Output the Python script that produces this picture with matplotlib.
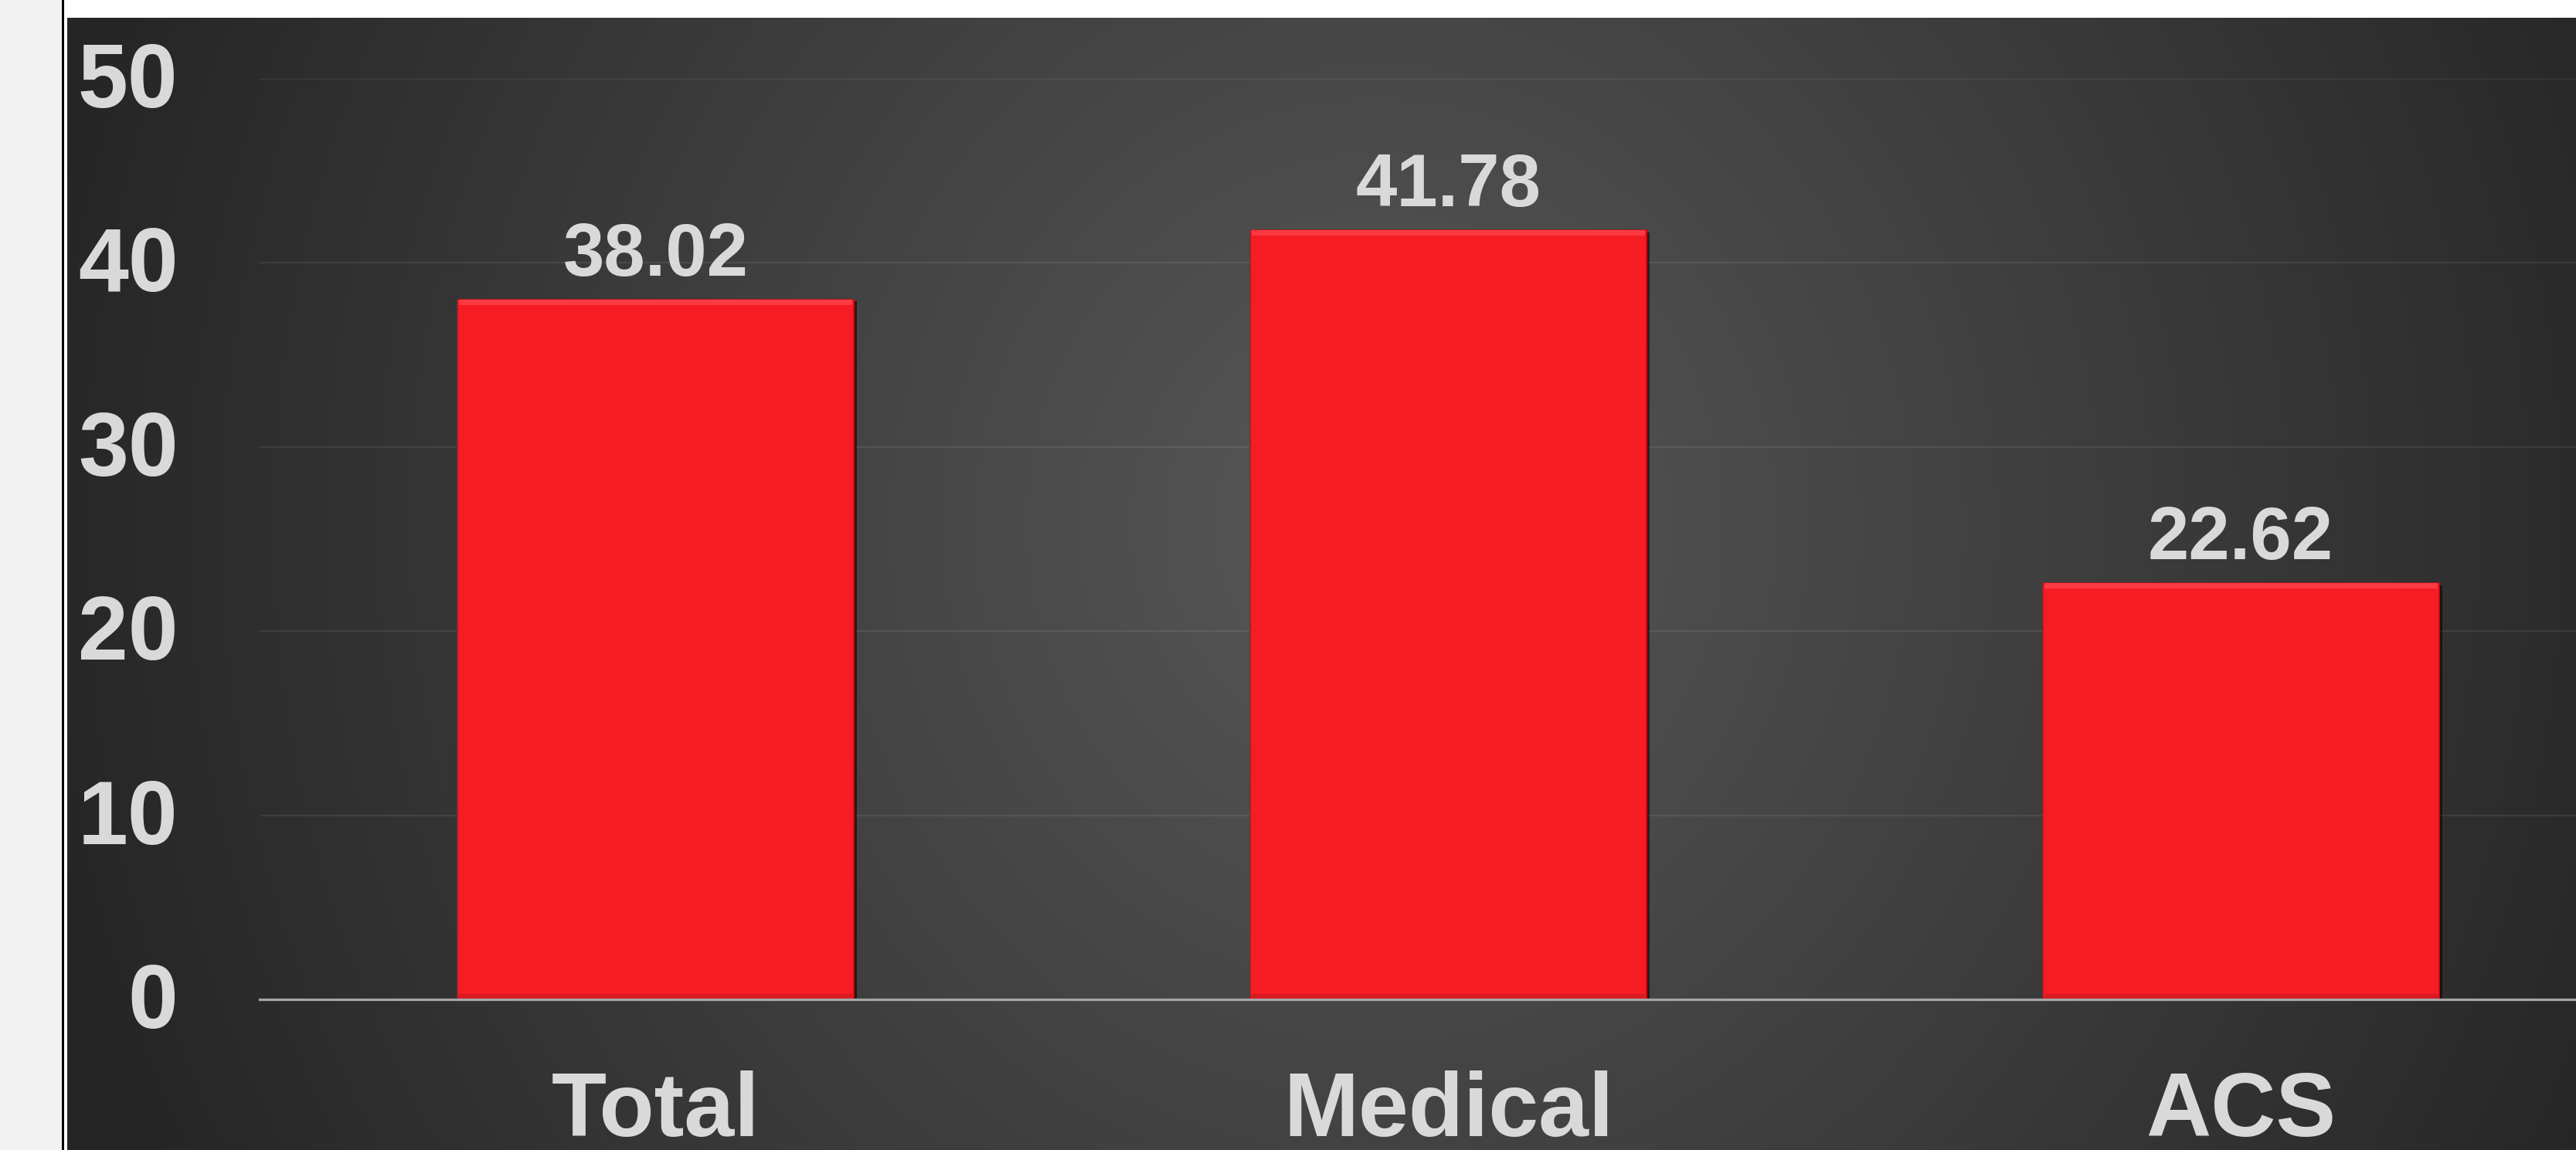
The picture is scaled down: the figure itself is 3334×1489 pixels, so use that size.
import numpy as np
import matplotlib
matplotlib.use("Agg")
import matplotlib.pyplot as plt
from matplotlib.patches import Rectangle
import matplotlib.patheffects as pe
import matplotlib.transforms as mtransforms

# ---- data ----
categories = ["Total", "Medical", "ACS"]
values = [38.02, 41.78, 22.62]
yticks = [0, 10, 20, 30, 40, 50]

W, H = 3334, 1489
DPI = 100
plt.rcParams['font.family'] = ['Liberation Sans', 'DejaVu Sans']

fig = plt.figure(figsize=(W / DPI, H / DPI), dpi=DPI, facecolor='white')

# left light-grey strip and thin black separator
fig.patches.append(Rectangle((0, 0), 80 / W, 1, transform=fig.transFigure,
                             facecolor='#f2f2f2', edgecolor='none', zorder=0))
fig.patches.append(Rectangle((80 / W, 0), 2.5 / W, 1, transform=fig.transFigure,
                             facecolor='#000000', edgecolor='none', zorder=0))

# dark radial-gradient panel
x0, y0 = 87, 23
bg = fig.add_axes([x0 / W, 0, 1 - x0 / W, (H - y0) / H], zorder=0)
xs = np.linspace(x0, W, 600)
ys = np.linspace(y0, H, 300)
X, Y = np.meshgrid(xs, ys)
cx, cy, rx, ry = 1780, 680, 1780, 1900
r = np.sqrt(((X - cx) / rx) ** 2 + ((Y - cy) / ry) ** 2)
t = np.clip(1 - r, 0, 1)
edge, center = 0x25 / 255, 0x58 / 255
g = edge + (center - edge) * t
img = np.dstack([g, g, g])
bg.imshow(img, extent=[0, 1, 0, 1], aspect='auto', interpolation='bilinear')
bg.set_axis_off()

# main axes (extends past right edge, as in the cropped reference)
left_px, right_px, base_px, top_px = 336, 3413, 1294, 102
ax = fig.add_axes([left_px / W, (H - base_px) / H, (right_px - left_px) / W,
                   (base_px - top_px) / H], zorder=2)
ax.set_facecolor('none')
ax.set_xlim(-0.5, len(categories) - 0.5)
ax.set_ylim(0, 50)

xpos = np.arange(len(categories))
bars = ax.bar(xpos, values, width=0.5, color='#f51c24', edgecolor='#b8141b',
              linewidth=1.2, zorder=3)
for b in bars:
    b.set_path_effects([pe.withSimplePatchShadow(offset=(3, -2), shadow_rgbFace='black',
                                                 alpha=0.55)])
vals = np.array(values)
bevel = 0.3
ax.bar(xpos, bevel, bottom=vals - bevel, width=0.5 - 0.004, color='#fb3a42',
       linewidth=0, zorder=4)
ax.bar(xpos, bevel, bottom=0, width=0.5 - 0.004, color='#d81a21',
       linewidth=0, zorder=4)

# value labels
for xp, v in zip(xpos, values):
    ax.annotate(f"{v:.2f}", (xp, v), xytext=(0, 22), textcoords='offset points',
                ha='center', va='baseline', fontsize=69, fontweight='bold',
                color='#d9d9d9', zorder=5)

# grid & spines
ax.set_yticks(yticks)
ax.yaxis.grid(True, color='#ffffff', alpha=0.08, linewidth=1.6, zorder=1)
ax.set_axisbelow(True)
for s in ['left', 'right', 'top']:
    ax.spines[s].set_visible(False)
ax.spines['bottom'].set_color('#a6a6a6')
ax.spines['bottom'].set_linewidth(2.3)
ax.spines['bottom'].set_zorder(4)

ax.set_xticks(xpos)
ax.set_xticklabels(categories)
ax.tick_params(axis='both', length=0, colors='#d9d9d9')
ax.tick_params(axis='y', pad=76, labelsize=84)
ax.tick_params(axis='x', pad=66, labelsize=84)
shift = mtransforms.ScaledTranslation(0, 4 / 72, fig.dpi_scale_trans)
for lab in ax.get_yticklabels():
    lab.set_transform(lab.get_transform() + shift)
for lab in ax.get_xticklabels() + ax.get_yticklabels():
    lab.set_fontweight('bold')
    lab.set_color('#d9d9d9')

fig.savefig('out.png', dpi=DPI, facecolor=fig.get_facecolor())
